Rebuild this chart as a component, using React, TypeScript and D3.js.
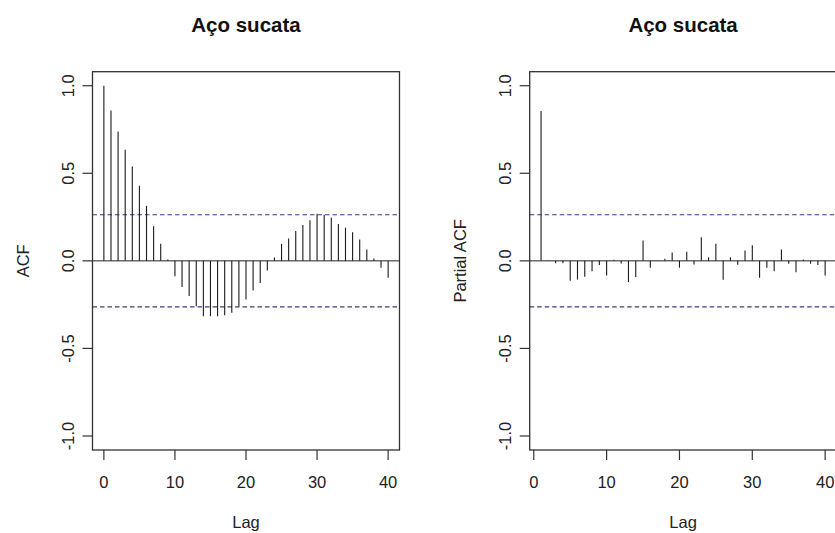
import { scaleLinear, select } from 'd3';
import React, { useEffect, useRef } from 'react';

// ACF, lags 0..40
const acfValues = [
  1.0, 0.859, 0.739, 0.634, 0.539, 0.429, 0.314, 0.198, 0.097, 0.008, -0.088, -0.15, -0.2, -0.259,
  -0.316, -0.316, -0.316, -0.31, -0.297, -0.259, -0.221, -0.17, -0.126, -0.055, 0.019, 0.097, 0.128,
  0.171, 0.204, 0.232, 0.269, 0.263, 0.246, 0.21, 0.189, 0.164, 0.122, 0.065, 0.013, -0.04, -0.097,
];

// PACF, lags 1..40
const pacfValues = [
  0.855, 0.002, -0.013, -0.014, -0.114, -0.107, -0.091, -0.059, -0.023, -0.084, 0.006, -0.015, -0.121,
  -0.092, 0.116, -0.04, 0.002, 0.012, 0.047, -0.039, 0.052, -0.021, 0.135, 0.021, 0.098, -0.108, 0.021,
  -0.022, 0.059, 0.089, -0.097, -0.04, -0.059, 0.065, -0.016, -0.065, 0.007, -0.016, -0.023, -0.084,
];

const confLimit = 0.263;
const xTicks = [0, 10, 20, 30, 40];
const yTicks = [-1.0, -0.5, 0.0, 0.5, 1.0];
const title = 'Aço sucata';

const FONT = '"Liberation Sans", Arial, Helvetica, sans-serif';

type Panel = {
  ylab: string;
  lags: number[];
  values: number[];
  xDomain: [number, number];
  left: number;
  right: number;
};

const panels: Panel[] = [
  {
    ylab: 'ACF',
    lags: acfValues.map((_, i) => i),
    values: acfValues,
    xDomain: [-1.6, 41.6],
    left: 92.5,
    right: 399.5,
  },
  {
    ylab: 'Partial ACF',
    lags: pacfValues.map((_, i) => i + 1),
    values: pacfValues,
    xDomain: [-0.56, 41.56],
    left: 529.7,
    right: 836.5,
  },
];

const App = () => {
  const svgRef = useRef<SVGSVGElement>(null);

  useEffect(() => {
    const svg = select(svgRef.current);
    svg.selectAll('*').remove();

    const top = 71.7;
    const bottom = 450;
    const yScale = scaleLinear().domain([-1.08, 1.08]).range([bottom, top]);

    panels.forEach((p) => {
      const g = svg.append('g');
      const xScale = scaleLinear().domain(p.xDomain).range([p.left, p.right]);
      const data = p.lags.map((lag, i) => ({ lag, value: p.values[i] }));

      // zero line
      g.append('line')
        .attr('x1', p.left)
        .attr('x2', p.right)
        .attr('y1', yScale(0))
        .attr('y2', yScale(0))
        .attr('stroke', '#222')
        .attr('stroke-width', 1);

      // confidence bands
      [confLimit, -confLimit].forEach((c) => {
        g.append('line')
          .attr('x1', p.left)
          .attr('x2', p.right)
          .attr('y1', yScale(c))
          .attr('y2', yScale(c))
          .attr('stroke', '#3a3a8a')
          .attr('stroke-width', 1.1)
          .attr('stroke-dasharray', '4.5,3');
      });

      // spikes
      g.selectAll('.spike')
        .data(data)
        .join('line')
        .attr('class', 'spike')
        .attr('x1', (d) => xScale(d.lag))
        .attr('x2', (d) => xScale(d.lag))
        .attr('y1', yScale(0))
        .attr('y2', (d) => yScale(d.value))
        .attr('stroke', '#1a1a1a')
        .attr('stroke-width', 1.1);

      // box
      g.append('rect')
        .attr('x', p.left)
        .attr('y', top)
        .attr('width', p.right - p.left)
        .attr('height', bottom - top)
        .attr('fill', 'none')
        .attr('stroke', '#333')
        .attr('stroke-width', 1.3);

      // x ticks
      xTicks.forEach((t) => {
        g.append('line')
          .attr('x1', xScale(t))
          .attr('x2', xScale(t))
          .attr('y1', bottom)
          .attr('y2', bottom + 10)
          .attr('stroke', '#333')
          .attr('stroke-width', 1.2);
        g.append('text')
          .attr('x', xScale(t))
          .attr('y', 488)
          .attr('text-anchor', 'middle')
          .attr('font-family', FONT)
          .attr('font-size', 16.5)
          .attr('fill', '#222')
          .text(String(t));
      });

      // y ticks
      yTicks.forEach((t) => {
        g.append('line')
          .attr('x1', p.left - 10)
          .attr('x2', p.left)
          .attr('y1', yScale(t))
          .attr('y2', yScale(t))
          .attr('stroke', '#333')
          .attr('stroke-width', 1.2);
        const lx = p.left - 19;
        g.append('text')
          .attr('transform', `translate(${lx},${yScale(t)}) rotate(-90)`)
          .attr('text-anchor', 'middle')
          .attr('font-family', FONT)
          .attr('font-size', 16.5)
          .attr('fill', '#222')
          .text(t.toFixed(1));
      });

      const cx = (p.left + p.right) / 2;

      g.append('text')
        .attr('x', cx)
        .attr('y', 31.5)
        .attr('text-anchor', 'middle')
        .attr('font-family', FONT)
        .attr('font-size', 20.5)
        .attr('font-weight', 'bold')
        .attr('fill', '#111')
        .text(title);

      g.append('text')
        .attr('x', cx)
        .attr('y', 528)
        .attr('text-anchor', 'middle')
        .attr('font-family', FONT)
        .attr('font-size', 16.5)
        .attr('fill', '#222')
        .text('Lag');

      g.append('text')
        .attr('transform', `translate(${p.left - 64},${(top + bottom) / 2}) rotate(-90)`)
        .attr('text-anchor', 'middle')
        .attr('font-family', FONT)
        .attr('font-size', 16.5)
        .attr('fill', '#222')
        .text(p.ylab);
    });
  }, []);

  return (
    <div>
      <svg
        ref={svgRef}
        width={835}
        height={533}
        style={{ position: 'absolute', left: 0, top: 0, background: '#fff', display: 'block' }}
      ></svg>
    </div>
  );
};

export default App;
